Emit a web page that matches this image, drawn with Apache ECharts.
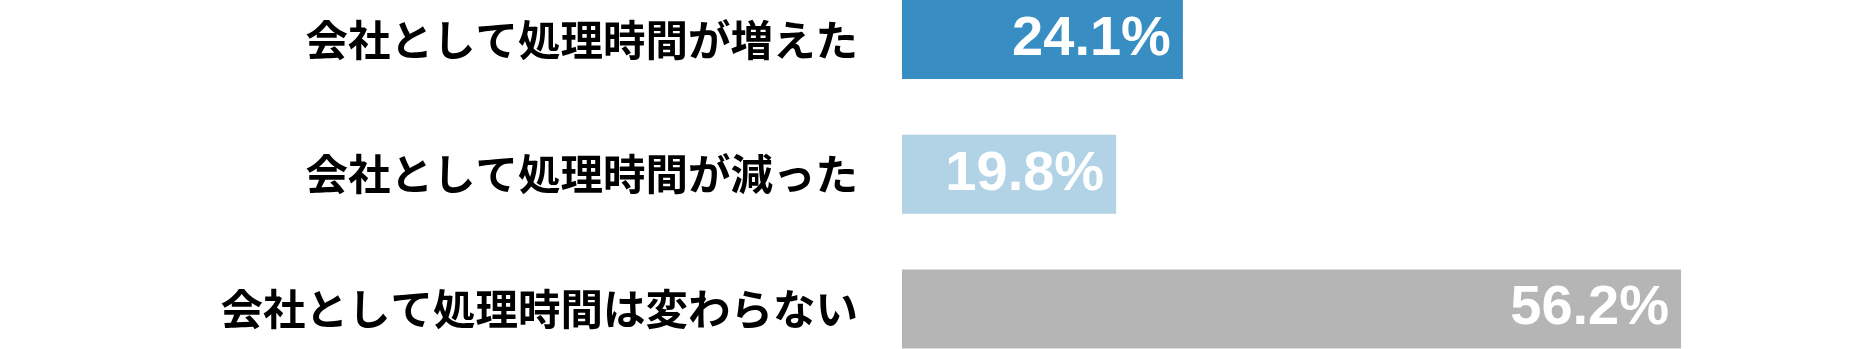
<!DOCTYPE html>
<html>
<head>
<meta charset="utf-8">
<script src="https://cdn.jsdelivr.net/npm/echarts@6/dist/echarts.min.js"></script>
<style>html,body{margin:0;padding:0;background:#fff;}#c{width:1871px;height:349px;}</style>
</head>
<body>
<div id="c"></div>
<script>
const categories = ['会社として処理時間が増えた', '会社として処理時間が減った', '会社として処理時間は変わらない'];
const values = [24.1, 19.8, 56.2];
const colors = ['#388DC2', '#B1D3E5', '#B5B5B5'];

const chart = echarts.init(document.getElementById('c'), null, {renderer: 'canvas'});
chart.setOption({
  animation: false,
  grid: {left: 902, right: 131, top: 39.5, bottom: 40},
  xAxis: {type: 'value', min: 6, max: 60, show: false},
  yAxis: {
    type: 'category', inverse: true, data: categories, boundaryGap: false,
    axisLine: {show: false}, axisTick: {show: false}, splitLine: {show: false},
    axisLabel: {
      margin: 44, color: '#000', fontSize: 42.5, fontWeight: 'bold',
      fontFamily: '"Noto Sans CJK JP", sans-serif'
    }
  },
  series: [{
    type: 'bar', barWidth: 79,
    data: values.map((v, i) => ({value: v, itemStyle: {color: colors[i]}})),
    label: {
      show: true, position: 'insideRight', distance: 12,
      formatter: p => p.value.toFixed(1) + '%',
      color: '#fff', fontSize: 56, fontWeight: 'bold',
      fontFamily: '"Liberation Sans", Arial, sans-serif'
    }
  }]
});
</script>
</body>
</html>
